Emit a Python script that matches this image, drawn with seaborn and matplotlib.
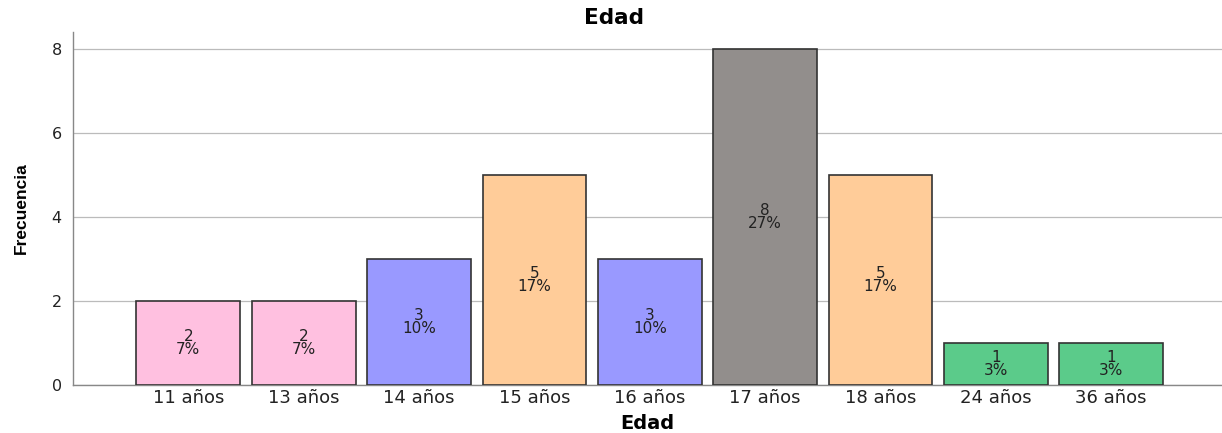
import matplotlib
matplotlib.use("Agg")
import matplotlib.pyplot as plt
import seaborn as sns
import pandas as pd

categorias = ["11 años", "13 años", "14 años", "15 años", "16 años",
              "17 años", "18 años", "24 años", "36 años"]
frecuencias = [2, 2, 3, 5, 3, 8, 5, 1, 1]
porcentajes = ["7%", "7%", "10%", "17%", "10%", "27%", "17%", "3%", "3%"]
colores = ["#FFC0E0", "#FFC0E0", "#9999FF", "#FFCC99", "#9999FF",
           "#928E8C", "#FFCC99", "#5BCB8A", "#5BCB8A"]

sns.set_theme(style="white")
plt.rcParams["font.family"] = ["DejaVu Sans"]

df = pd.DataFrame({"Edad": categorias, "Frecuencia": frecuencias})

fig = plt.figure(figsize=(12.22, 4.33), dpi=100)
ax = fig.add_axes([0.0597, 0.111, 0.9403, 0.815])

sns.barplot(data=df, x="Edad", y="Frecuencia", hue="Edad",
            palette=colores, order=categorias, hue_order=categorias,
            width=0.9, saturation=1, edgecolor="#333333", linewidth=1.2,
            legend=False, ax=ax, zorder=3)

for i, (v, p) in enumerate(zip(frecuencias, porcentajes)):
    ax.text(i, v / 2, f"{v}\n{p}", ha="center", va="center",
            fontsize=11, color="#222222", linespacing=0.78, zorder=4)

ax.set_xlim(-1.0, 8.96)
ax.set_ylim(0, 8.4)
ax.set_yticks([0, 2, 4, 6, 8])
ax.yaxis.grid(True, color="#BBBBBB", linewidth=0.9, zorder=0)
ax.xaxis.grid(False)
ax.tick_params(axis="both", length=0, labelsize=13, colors="#222222")
ax.tick_params(axis="y", pad=8, labelsize=11.5)
ax.tick_params(axis="x", pad=3)

for side in ["top", "right"]:
    ax.spines[side].set_visible(False)
for side in ["left", "bottom"]:
    ax.spines[side].set_color("#888888")
    ax.spines[side].set_linewidth(1.0)

# title centred on the figure, axis label centred on the plot area
ax.set_title("Edad", fontsize=15.5, fontweight="bold", pad=6, color="black",
             x=0.471)
ax.set_xlabel("Edad", fontsize=14, fontweight="bold", labelpad=5, color="black")
ax.set_ylabel("Frecuencia", fontsize=12.5, fontweight="bold", labelpad=16,
              color="black",
              family=["Liberation Sans Narrow", "Liberation Sans", "DejaVu Sans"])

fig.savefig("out.png", dpi=100)
